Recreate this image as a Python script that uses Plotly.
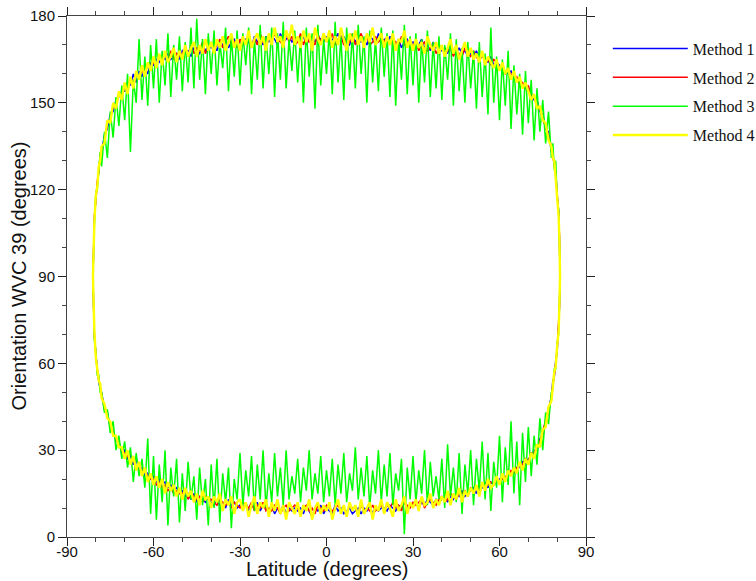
import plotly.graph_objects as go

# Latitude grid (degrees) shared by both branches of every method
LAT = [-81, -80.8, -80.5, -80, -79.5, -79, -78.5,
       -78, -77, -76, -75, -74, -73, -72, -71,
       -70, -69, -68, -67, -66, -65, -64, -63, -62, -61,
       -60, -59, -58, -57, -56, -55, -54, -53, -52, -51,
       -50, -49, -48, -47, -46, -45, -44, -43, -42, -41,
       -40, -39, -38, -37, -36, -35, -34, -33, -32, -31,
       -30, -29, -28, -27, -26, -25, -24, -23, -22, -21,
       -20, -19, -18, -17, -16, -15, -14, -13, -12, -11,
       -10, -9, -8, -7, -6, -5, -4, -3, -2, -1,
       0, 1, 2, 3, 4, 5, 6, 7, 8, 9,
       10, 11, 12, 13, 14, 15, 16, 17, 18, 19,
       20, 21, 22, 23, 24, 25, 26, 27, 28, 29,
       30, 31, 32, 33, 34, 35, 36, 37, 38, 39,
       40, 41, 42, 43, 44, 45, 46, 47, 48, 49,
       50, 51, 52, 53, 54, 55, 56, 57, 58, 59,
       60, 61, 62, 63, 64, 65, 66, 67, 68, 69,
       70, 71, 72, 73, 74, 75, 76, 77, 78,
       78.5, 79, 79.5, 80, 80.5, 80.8, 81]

# Method 1 (blue)
M1_UP = [90, 100, 110, 117, 122, 127, 131,
         133, 139, 141, 146, 147, 151, 152, 154,
         154, 157, 156, 160, 157, 161, 159, 162, 160, 164,
         163, 165, 164, 166, 165, 167, 165, 166, 167, 165,
         168, 167, 168, 166, 169, 168, 167, 170, 168, 170,
         169, 170, 168, 171, 170, 172, 169, 171, 172, 170,
         171, 170, 172, 171, 169, 173, 171, 172, 170, 173,
         171, 173, 172, 170, 174, 171, 172, 173, 171, 172,
         172, 171, 173, 170, 172, 173, 171, 173, 172, 171,
         173, 170, 172, 172, 174, 171, 173, 171, 170, 173,
         171, 173, 171, 172, 170, 173, 172, 170, 174, 171,
         172, 170, 173, 171, 170, 172, 169, 171, 172, 170,
         171, 169, 170, 172, 169, 170, 168, 171, 169, 170,
         168, 169, 167, 170, 168, 167, 169, 167, 168, 166,
         167, 166, 168, 165, 166, 165, 164, 166, 163, 164,
         163, 162, 161, 160, 161, 159, 158, 157, 156, 156,
         155, 153, 151, 151, 147, 146, 141, 140, 133,
         132, 128, 126, 118, 113, 103, 90]
M1_DN = [90, 81, 69, 64, 57, 55, 51,
         50, 44, 43, 38, 37, 33, 33, 29,
         30, 27, 28, 25, 27, 23, 24, 21, 22, 20,
         21, 19, 20, 18, 19, 17, 18, 16, 17, 15,
         16, 14, 15, 13, 15, 12, 14, 13, 12, 14,
         12, 11, 13, 11, 12, 10, 13, 11, 12, 10,
         11, 10, 12, 9, 11, 10, 12, 9, 11, 10,
         9, 11, 8, 10, 9, 11, 8, 10, 9, 10,
         9, 10, 8, 11, 9, 7, 10, 9, 11, 8,
         10, 9, 8, 11, 9, 10, 8, 9, 10, 8,
         9, 10, 8, 10, 9, 11, 8, 10, 9, 10,
         10, 9, 11, 10, 9, 11, 10, 12, 10, 11,
         11, 12, 10, 12, 11, 13, 12, 11, 13, 12,
         13, 14, 12, 14, 13, 15, 14, 16, 14, 15,
         16, 17, 15, 18, 17, 19, 17, 19, 18, 19,
         20, 21, 20, 22, 22, 23, 24, 24, 26, 25,
         27, 28, 30, 30, 34, 35, 39, 43, 49,
         54, 55, 61, 64, 73, 79, 90]

# Method 2 (red)
M2_UP = [90, 99, 111, 116, 123, 126, 132,
         134, 137, 143, 144, 149, 149, 153, 152,
         156, 155, 158, 157, 160, 159, 161, 160, 163, 162,
         164, 163, 166, 164, 167, 165, 168, 165, 167, 166,
         167, 169, 166, 170, 167, 169, 168, 171, 167, 169,
         171, 168, 170, 172, 169, 171, 173, 170, 171, 169,
         172, 170, 171, 173, 170, 172, 170, 174, 171, 172,
         173, 171, 174, 172, 171, 170, 174, 171, 173, 170,
         171, 174, 170, 173, 171, 172, 170, 174, 171, 173,
         172, 171, 174, 170, 172, 173, 170, 172, 171, 174,
         170, 172, 174, 171, 173, 170, 171, 173, 171, 172,
         171, 173, 170, 172, 171, 169, 173, 170, 171, 169,
         170, 171, 168, 170, 171, 168, 169, 170, 167, 169,
         169, 167, 168, 169, 166, 168, 167, 166, 169, 167,
         166, 168, 166, 164, 167, 164, 165, 163, 165, 164,
         162, 163, 160, 161, 160, 158, 159, 156, 157, 155,
         156, 152, 152, 149, 148, 144, 142, 138, 135,
         131, 129, 125, 119, 112, 104, 90]
M2_DN = [90, 80, 70, 63, 58, 56, 52,
         49, 45, 42, 39, 36, 34, 32, 30,
         29, 28, 26, 27, 24, 25, 22, 23, 21, 20,
         20, 18, 19, 17, 18, 16, 17, 15, 16, 15,
         15, 16, 13, 15, 14, 13, 14, 12, 14, 13,
         13, 12, 11, 13, 12, 11, 12, 10, 12, 11,
         10, 12, 11, 10, 12, 9, 11, 10, 12, 9,
         10, 9, 11, 10, 8, 10, 11, 9, 10, 11,
         10, 8, 10, 11, 9, 10, 8, 11, 10, 9,
         11, 10, 9, 10, 11, 9, 10, 8, 11, 10,
         10, 8, 11, 9, 10, 9, 11, 9, 10, 11,
         9, 11, 10, 12, 10, 11, 9, 12, 11, 10,
         12, 11, 12, 13, 10, 12, 13, 12, 11, 13,
         14, 12, 13, 15, 14, 13, 15, 15, 16, 14,
         17, 16, 17, 16, 18, 17, 18, 19, 18, 20,
         19, 20, 21, 21, 23, 22, 24, 25, 25, 27,
         26, 29, 29, 31, 33, 36, 40, 44, 48,
         53, 56, 60, 65, 72, 80, 90]

# Method 3 (green)
M3_UP = [90, 102, 108, 119, 120, 126, 133,
         128, 140, 131, 147, 138, 152, 142, 156,
         144, 160, 133, 158, 150, 172, 151, 166, 149, 170,
         155, 172, 150, 168, 156, 174, 152, 170, 158, 173,
         154, 171, 157, 176, 155, 179, 158, 172, 153, 174,
         160, 175, 156, 171, 162, 176, 154, 173, 159, 175,
         156, 174, 163, 176, 153, 172, 158, 177, 155, 173,
         160, 176, 152, 174, 158, 178, 155, 172, 161, 175,
         157, 173, 150, 176, 159, 174, 148, 177, 156, 172,
         160, 175, 153, 178, 157, 173, 151, 176, 158, 174,
         155, 177, 160, 173, 150, 175, 157, 172, 154, 176,
         159, 174, 152, 175, 149, 172, 158, 177, 153, 173,
         156, 174, 150, 172, 157, 175, 152, 171, 155, 173,
         151, 170, 158, 174, 149, 172, 154, 169, 150, 171,
         155, 168, 148, 171, 152, 167, 146, 176, 150, 166,
         144, 165, 149, 168, 141, 163, 146, 160, 139, 161,
         143, 158, 137, 155, 140, 151, 136, 147, 131,
         136, 127, 130, 117, 113, 101, 90]
M3_DN = [90, 81, 68, 64, 56, 56, 50,
         50, 43, 44, 36, 40, 30, 35, 27,
         33, 24, 31, 19, 29, 21, 27, 17, 34, 8,
         28, 6, 25, 12, 30, 4, 24, 14, 27, 5,
         22, 9, 26, 13, 21, 6, 24, 11, 20, 4,
         25, 10, 27, 5, 22, 12, 24, 3, 20, 13,
         29, 11, 23, 14, 28, 9, 25, 13, 30, 10,
         22, 12, 29, 14, 24, 11, 30, 13, 21, 15,
         27, 12, 24, 16, 30, 13, 22, 15, 28, 12,
         23, 14, 27, 11, 25, 15, 29, 12, 22, 16,
         31, 13, 24, 14, 28, 10, 23, 15, 30, 12,
         25, 14, 29, 11, 22, 16, 27, 1, 24, 13,
         28, 12, 23, 15, 30, 11, 26, 14, 21, 13,
         27, 10, 32, 14, 24, 12, 29, 8, 25, 15,
         30, 11, 27, 16, 33, 13, 29, 9, 26, 17,
         35, 12, 31, 18, 40, 15, 33, 11, 36, 19,
         38, 21, 35, 25, 41, 30, 43, 39, 50,
         51, 58, 58, 67, 70, 82, 90]

# Method 4 (yellow)
M4_UP = [90, 101, 109, 118, 121, 128, 130,
         135, 136, 144, 143, 150, 148, 154, 151,
         157, 153, 159, 155, 161, 158, 163, 159, 164, 161,
         166, 162, 167, 163, 168, 164, 166, 169, 164, 168,
         165, 170, 166, 169, 171, 166, 170, 167, 172, 168,
         171, 167, 172, 169, 173, 168, 171, 174, 169, 172,
         168, 173, 170, 175, 169, 172, 174, 170, 173, 168,
         174, 170, 176, 171, 173, 169, 175, 172, 177, 170,
         173, 169, 175, 171, 174, 168, 176, 172, 170, 174,
         171, 175, 169, 173, 170, 176, 172, 168, 174, 171,
         175, 170, 173, 169, 174, 171, 176, 170, 172, 174,
         169, 173, 170, 174, 168, 172, 171, 175, 169, 172,
         168, 172, 169, 171, 167, 173, 170, 168, 171, 167,
         170, 166, 169, 172, 167, 170, 165, 168, 171, 166,
         169, 165, 167, 164, 168, 163, 166, 164, 162, 165,
         161, 164, 160, 162, 158, 161, 157, 159, 155, 157,
         154, 151, 153, 148, 149, 144, 143, 137, 135,
         131, 130, 124, 120, 111, 102, 90]
M4_DN = [90, 79, 71, 62, 59, 54, 53,
         48, 46, 41, 40, 35, 35, 31, 31,
         27, 30, 25, 28, 23, 26, 21, 24, 19, 22,
         18, 21, 17, 20, 15, 19, 16, 18, 14, 17,
         13, 17, 14, 16, 12, 15, 11, 16, 13, 14,
         10, 14, 12, 15, 9, 13, 11, 14, 8, 12,
         13, 9, 12, 7, 11, 14, 8, 12, 10, 13,
         7, 12, 9, 13, 8, 11, 6, 12, 10, 8,
         12, 7, 11, 9, 13, 6, 10, 12, 8, 11,
         9, 12, 6, 10, 13, 8, 11, 7, 12, 9,
         11, 7, 13, 8, 10, 12, 6, 11, 9, 13,
         8, 12, 10, 7, 13, 9, 11, 14, 8, 12,
         10, 13, 9, 14, 11, 12, 15, 10, 13, 11,
         14, 12, 16, 11, 15, 13, 17, 12, 16, 14,
         17, 15, 18, 14, 19, 16, 20, 17, 18, 21,
         18, 22, 19, 23, 21, 24, 22, 26, 23, 27,
         25, 29, 27, 32, 31, 37, 38, 45, 47,
         52, 57, 59, 66, 71, 81, 90]

NAMES = ["Method 1", "Method 2", "Method 3", "Method 4"]
COLORS = ["#0000ff", "#ff0000", "#00ff00", "#ffff00"]
WIDTHS = [1.5, 1.5, 1.5, 2.4]
SERIES = [(M1_UP, M1_DN), (M2_UP, M2_DN), (M3_UP, M3_DN), (M4_UP, M4_DN)]

X_TICKS = [-90, -60, -30, 0, 30, 60, 90]
X_TICK_LABELS = ["-90", "-60", "-30", "0", "30", "60", "90"]
Y_TICKS = [0, 30, 60, 90, 120, 150, 180]
Y_TICK_LABELS = ["0", "30", "60", "90", "120", "150", "180"]

fig = go.Figure()
for i, (up, dn) in enumerate(SERIES):
    x = LAT + LAT[::-1]
    y = up + dn[::-1]
    fig.add_trace(go.Scatter(
        x=x, y=y, mode="lines", name=NAMES[i], legendgroup=NAMES[i],
        line=dict(color=COLORS[i], width=WIDTHS[i]),
    ))

axis_common = dict(
    automargin=False,
    showline=True, linecolor="#444", linewidth=1, mirror="ticks",
    ticks="outside", ticklen=8, tickcolor="#222", tickwidth=1,
    showgrid=False, zeroline=False, tickmode="array",
    tickfont=dict(family="Liberation Sans, Arial, sans-serif", size=15, color="#111"),
)

fig.update_layout(
    width=756, height=581,
    margin=dict(l=67, r=170, t=16, b=44, autoexpand=False),
    paper_bgcolor="white", plot_bgcolor="white",
    xaxis=dict(range=[-90, 90], tickvals=X_TICKS, ticktext=X_TICK_LABELS,
               ticklabelstandoff=-7,
               minor=dict(tickmode="linear", tick0=-90, dtick=10, ticks="outside",
                          ticklen=4, tickcolor="#444", showgrid=False),
               **axis_common),
    yaxis=dict(range=[0, 180], tickvals=Y_TICKS, ticktext=Y_TICK_LABELS,
               minor=dict(tickmode="linear", tick0=0, dtick=10, ticks="outside",
                          ticklen=4, tickcolor="#444", showgrid=False),
               **axis_common),
    showlegend=True,
    legend=dict(
        x=1.042, xanchor="left", y=0.970, yanchor="top",
        font=dict(family="Liberation Serif, Times New Roman, serif", size=16, color="#111"),
        traceorder="grouped", tracegroupgap=5, itemwidth=75,
        bgcolor="rgba(0,0,0,0)",
    ),
    annotations=[
        dict(text="Latitude (degrees)", xref="paper", yref="paper", x=0.5, y=0,
             xanchor="center", yanchor="middle", yshift=-32, showarrow=False,
             font=dict(family="Liberation Sans, Arial, sans-serif", size=20, color="#111")),
        dict(text="Orientation WVC 39 (degrees)", xref="paper", yref="paper", x=0, y=0.5,
             xanchor="center", yanchor="middle", xshift=-49, textangle=-90, showarrow=False,
             font=dict(family="Liberation Sans, Arial, sans-serif", size=20, color="#111")),
    ],
)

fig.write_html("out.html", config={"displayModeBar": False},
               post_script="document.body.style.margin='0';")
